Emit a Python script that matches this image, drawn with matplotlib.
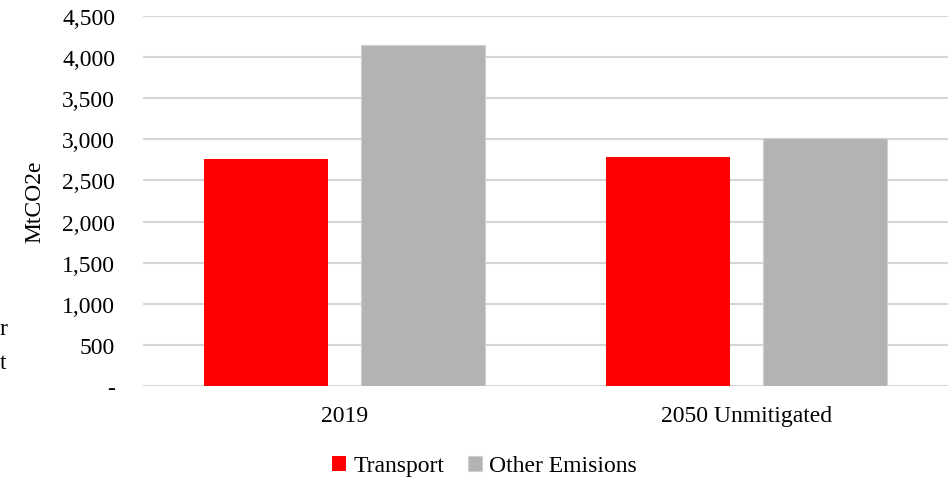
import matplotlib.pyplot as plt
import matplotlib.ticker as mticker
import numpy as np

plt.rcParams['font.family'] = ['Liberation Serif', 'DejaVu Serif']

categories = ['2019', '2050 Unmitigated']
transport = [2760, 2785]
other = [4145, 3015]
series_names = ['Transport', 'Other Emisions']

fig = plt.figure(figsize=(9.53, 4.81), dpi=100)
ax = fig.add_axes([0.150, 0.1954, 0.845, 0.7693])

x = np.arange(len(categories))
w = 0.308
ax.bar(x - 0.195, transport, w, color='#ff0000', label=series_names[0], zorder=3)
ax.bar(x + 0.195, other, w, color='#b3b3b3', edgecolor='#d0d0d0', linewidth=0.8,
       label=series_names[1], zorder=3)

ax.set_xlim(-0.5, 1.5)
ax.set_ylim(0, 4500)
ax.set_yticks(np.arange(0, 4501, 500))
ax.yaxis.set_major_formatter(mticker.FuncFormatter(lambda v, p: '-' if v == 0 else f'{v:,.0f}'))
ax.set_xticks(x)
ax.set_xticklabels(categories)
ax.grid(axis='y', color='#d6d6d6', linewidth=1.5, zorder=0)
for s in ax.spines.values():
    s.set_visible(False)
ax.tick_params(axis='both', length=0, labelsize=17)
ax.tick_params(axis='y', pad=20)
ax.tick_params(axis='x', pad=14)
ax.set_ylabel('MtCO2e', fontsize=17, labelpad=12)

ax.legend(loc='center', bbox_to_anchor=(0.424, -0.216), ncol=2, frameon=False,
          fontsize=17, handlelength=0.6, handleheight=0.6, handletextpad=0.3,
          columnspacing=1.0)

# clipped text fragments at the left edge
fig.text(0.0, 0.315, 'r', fontsize=17, va='center', ha='left')
fig.text(0.0, 0.245, 't', fontsize=17, va='center', ha='left')

fig.savefig('out.png', dpi=100)
